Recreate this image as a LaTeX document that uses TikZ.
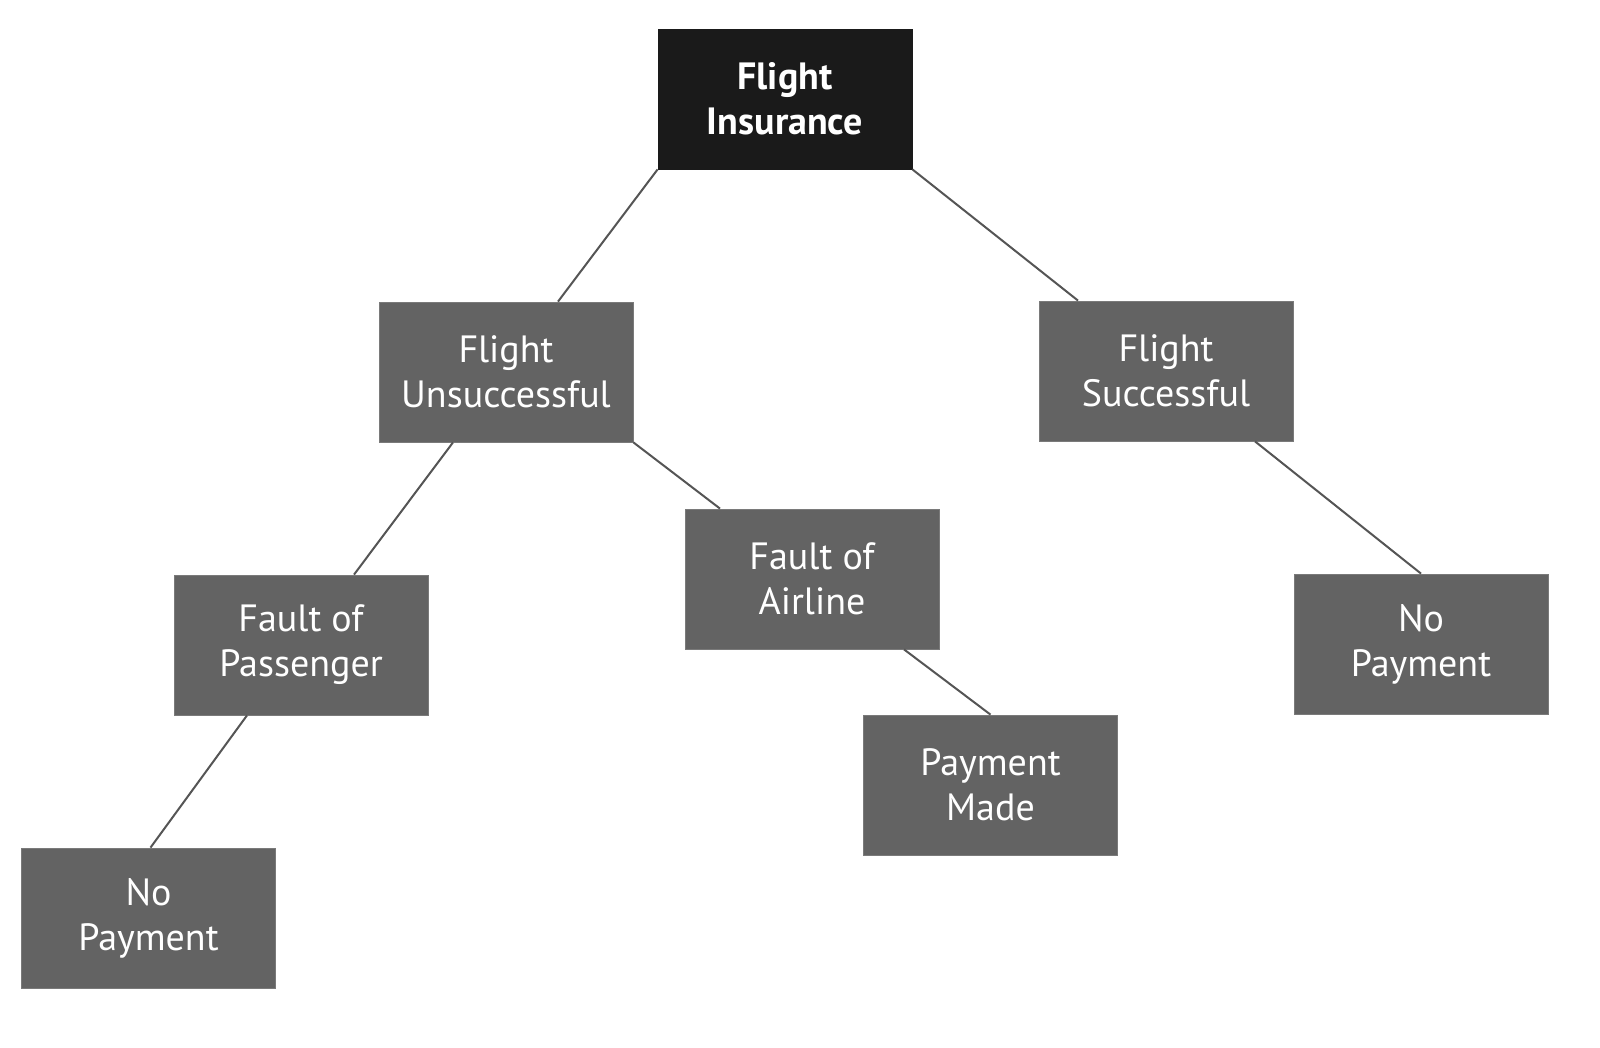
\documentclass[tikz,border=0pt]{standalone}
\usepackage{fontspec}
\setmainfont{PT Sans}
\definecolor{boxgray}{HTML}{636363}
\definecolor{rootblack}{HTML}{1A1A1A}
\definecolor{linegray}{HTML}{555555}
\begin{document}
\begin{tikzpicture}[x=0.5pt,y=-0.5pt,
  box/.style={draw=boxgray!85!white, line width=0.4pt, fill=boxgray, text=white,
    minimum width=127pt, minimum height=70pt, inner sep=0pt, align=center,
    font=\fontsize{19}{22.5}\selectfont},
  rootbox/.style={box, fill=rootblack, draw=rootblack, font=\fontsize{19}{22.5}\selectfont\bfseries},
  conn/.style={draw=linegray, line width=1pt}]
\useasboundingbox (0,0) rectangle (1600,1048);
\node[rootbox] (root) at (785,99) {Flight\\Insurance};
\node[box] (fu) at (506,372) {Flight\\Unsuccessful};
\node[box] (fs) at (1166,371) {Flight\\Successful};
\node[box] (fp) at (301,645) {Fault of\\Passenger};
\node[box] (fa) at (812,579) {Fault of\\Airline};
\node[box] (np1) at (148.5,918) {No\\Payment};
\node[box] (pm) at (990.5,785) {Payment\\Made};
\node[box] (np2) at (1421,644) {No\\Payment};
\draw[conn] (root.south west) -- ([xshift=26pt]fu.north);
\draw[conn] (root.south east) -- ([xshift=-44pt]fs.north);
\draw[conn] ([xshift=-26.5pt]fu.south) -- ([xshift=26.5pt]fp.north);
\draw[conn] (fu.south east) -- ([xshift=-46pt]fa.north);
\draw[conn] ([xshift=44.5pt]fs.south) -- (np2.north);
\draw[conn] ([xshift=-27pt]fp.south) -- ([xshift=1pt]np1.north);
\draw[conn] ([xshift=46pt]fa.south) -- (pm.north);
\end{tikzpicture}
\end{document}
